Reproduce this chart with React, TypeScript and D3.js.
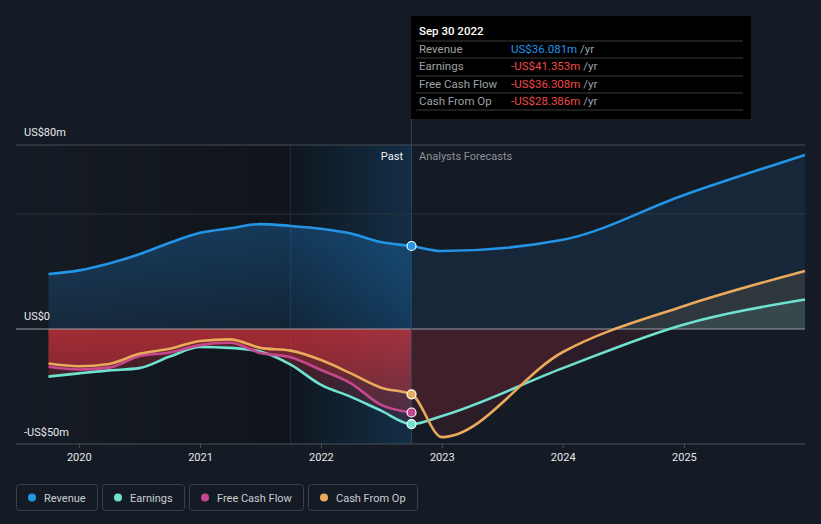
import React from "react";
import * as d3 from "d3";

// ---------- DATA ----------
const pastDates = [
  "2019-09-30", "2019-12-31", "2020-03-31", "2020-06-30", "2020-09-30",
  "2020-12-31", "2021-03-31", "2021-06-30", "2021-09-30", "2021-12-31",
  "2022-03-31", "2022-06-30", "2022-09-30",
];
const revenuePast = [23.9, 25.5, 28.5, 32.5, 37.5, 41.8, 43.8, 45.6, 44.8, 43.6, 41.5, 37.8, 36.081];
const earningsPast = [-20.7, -19.3, -18.0, -17.0, -12.0, -7.8, -8.2, -9.8, -15.5, -24.3, -29.5, -35.5, -41.353];
const fcfPast = [-16.4, -17.6, -16.8, -11.8, -10.2, -7.0, -6.0, -10.4, -12.3, -17.8, -23.6, -33.0, -36.308];
const cfoPast = [-15.0, -16.2, -15.2, -10.8, -8.6, -5.2, -4.5, -8.2, -9.4, -13.5, -19.3, -25.5, -28.386];

const forecastDates = ["2022-12-31", "2023-12-31", "2024-12-31", "2025-12-31"];
const revenueForecast = [33.9, 38.8, 58.3, 75.7];
const earningsForecast = [-37.8, -17.0, 2.0, 12.8];
const cfoForecast = [-47.0, -10.0, 10.0, 25.2];

const yTicks = [80, 0, -50];
const yTickLabels = ["US$80m", "US$0", "-US$50m"];
const gridValues = [80, 50];
const xTickYears = [2020, 2021, 2022, 2023, 2024, 2025];

const seriesNames = ["Revenue", "Earnings", "Free Cash Flow", "Cash From Op"];
const seriesColors = ["#2394e6", "#6fe3d0", "#c4478f", "#e9aa5c"];

const tooltipTitle = "Sep 30 2022";
const tooltipValues = ["US$36.081m", "-US$41.353m", "-US$36.308m", "-US$28.386m"];

// ---------- helpers ----------
function measure(text: string, font: string): number {
  if (typeof document === "undefined") return text.length * 6;
  const c = document.createElement("canvas");
  const ctx = c.getContext("2d");
  if (!ctx) return text.length * 6;
  ctx.font = font;
  return ctx.measureText(text).width;
}

type P = { d: Date; v: number };

export default function App() {
  const W = 821;
  const H = 524;
  const parse = d3.timeParse("%Y-%m-%d");
  const pd = pastDates.map((s) => parse(s) as Date);
  const fd = forecastDates.map((s) => parse(s) as Date);

  const x = d3.scaleTime().domain([pd[0], fd[fd.length - 1]]).range([48.5, 805]);
  const y = d3.scaleLinear().domain([-50, 80]).range([444, 145]);

  const build = (past: number[], fc?: number[]): P[] => [
    ...past.map((v, i) => ({ d: pd[i], v })),
    ...(fc ? fc.map((v, i) => ({ d: fd[i], v })) : []),
  ];

  const revenue = build(revenuePast, revenueForecast);
  const earnings = build(earningsPast, earningsForecast);
  const fcf = build(fcfPast);
  const cfo = build(cfoPast, cfoForecast);

  const line = d3
    .line<P>()
    .x((p) => x(p.d))
    .y((p) => y(p.v))
    .curve(d3.curveMonotoneX);
  const area = d3
    .area<P>()
    .x((p) => x(p.d))
    .y0(y(0))
    .y1((p) => y(p.v))
    .curve(d3.curveMonotoneX);

  const left = 16;
  const right = 805;
  const top = y(80);
  const bottom = y(-50);
  const zero = y(0);
  const split = x(pd[pd.length - 1]);
  const shadeStart = x(parse("2021-09-30") as Date);

  const font = "Roboto, 'Noto Sans', sans-serif";

  // legend layout
  const legendFont = "11px Roboto";
  let lx = 16;
  const legendItems = seriesNames.map((n, i) => {
    const tw = measure(n, legendFont);
    const w = Math.round(tw + 39);
    const item = { name: n, color: seriesColors[i], x: lx, w };
    lx += w + 5;
    return item;
  });

  const last = {
    rev: revenue[pd.length - 1],
    earn: earnings[pd.length - 1],
    fcf: fcf[pd.length - 1],
    cfo: cfo[pd.length - 1],
  };

  const tipX = 411;
  const tipRowsY = [53, 70, 88, 105];
  const tipLinesY = [41, 58, 76, 93, 110];

  return (
    <svg
      width={W}
      height={H}
      style={{ position: "absolute", left: 0, top: 0, display: "block" }}
      fontFamily={font}
    >
      <defs>
        <linearGradient id="darken" x1="0" x2="1" y1="0" y2="0">
          <stop offset="0" stopColor="#000" stopOpacity={0} />
          <stop offset="1" stopColor="#000" stopOpacity={0.25} />
        </linearGradient>
        <linearGradient id="bluePast" x1="0" x2="1" y1="0" y2="0">
          <stop offset="0" stopColor="#2196f3" stopOpacity={0.02} />
          <stop offset="1" stopColor="#2196f3" stopOpacity={0.2} />
        </linearGradient>
        <linearGradient id="revPast" gradientUnits="userSpaceOnUse" x1="0" x2="0" y1={y(50)} y2={zero}>
          <stop offset="0" stopColor="#2196f3" stopOpacity={0.3} />
          <stop offset="1" stopColor="#2196f3" stopOpacity={0.12} />
        </linearGradient>
        <linearGradient id="redPast" gradientUnits="userSpaceOnUse" x1="0" x2="0" y1={zero} y2={bottom}>
          <stop offset="0" stopColor="#e0343c" stopOpacity={0.33} />
          <stop offset="1" stopColor="#e0343c" stopOpacity={0.08} />
        </linearGradient>
        <clipPath id="pastPos">
          <rect x={0} y={0} width={split} height={zero} />
        </clipPath>
        <clipPath id="pastNeg">
          <rect x={0} y={zero} width={split} height={H - zero} />
        </clipPath>
        <clipPath id="fcPos">
          <rect x={split} y={0} width={W - split} height={zero} />
        </clipPath>
        <clipPath id="fcNeg">
          <rect x={split} y={zero} width={W - split} height={H - zero} />
        </clipPath>
      </defs>

      {/* background */}
      <rect x={0} y={0} width={W} height={H} fill="#151b24" />
      <rect x={left} y={top} width={shadeStart - left} height={bottom - top} fill="url(#darken)" />
      <rect x={shadeStart} y={top} width={split - shadeStart} height={bottom - top} fill="#000" fillOpacity={0.25} />
      <rect x={shadeStart} y={top} width={split - shadeStart} height={bottom - top} fill="url(#bluePast)" />
      <line x1={shadeStart} x2={shadeStart} y1={top} y2={bottom} stroke="#1c2d3e" strokeWidth={1} />

      {/* gridlines */}
      {gridValues.map((g, i) => (
        <line
          key={g}
          x1={left}
          x2={right}
          y1={y(g)}
          y2={y(g)}
          stroke={i === 0 ? "#464c55" : "#2a3039"}
          strokeWidth={1}
        />
      ))}

      {/* revenue fills */}
      <path d={area(revenue) || ""} fill="url(#revPast)" clipPath="url(#pastPos)" />
      <path d={area(revenue) || ""} fill="#2196f3" fillOpacity={0.1} clipPath="url(#fcPos)" />

      {/* past negative fills */}
      {[earnings, fcf, cfo].map((s, i) => (
        <path key={"pn" + i} d={area(s) || ""} fill="url(#redPast)" clipPath="url(#pastNeg)" />
      ))}
      {/* forecast fills */}
      {[earnings, cfo].map((s, i) => (
        <path key={"fn" + i} d={area(s) || ""} fill="#d0353f" fillOpacity={0.12} clipPath="url(#fcNeg)" />
      ))}
      <path d={area(earnings) || ""} fill="#71e7d6" fillOpacity={0.1} clipPath="url(#fcPos)" />
      <path d={area(cfo) || ""} fill="#e9aa5c" fillOpacity={0.12} clipPath="url(#fcPos)" />

      {/* zero line & axis */}
      <line x1={left} x2={right} y1={zero} y2={zero} stroke="#9a9ea4" strokeWidth={1.2} />
      <line x1={left} x2={right} y1={bottom} y2={bottom} stroke="#4a5058" strokeWidth={1} />
      {xTickYears.map((yr) => {
        const xx = x(new Date(yr, 0, 1));
        return (
          <g key={yr}>
            <line x1={xx} x2={xx} y1={bottom} y2={bottom + 4} stroke="#4a5058" />
            <text x={xx} y={461} textAnchor="middle" fontSize={11} fill="#e6e8ea">
              {yr}
            </text>
          </g>
        );
      })}

      {/* split line */}
      <line x1={split} x2={split} y1={16} y2={bottom} stroke="#29435c" strokeWidth={1} />

      {/* lines */}
      <path d={line(revenue) || ""} fill="none" stroke={seriesColors[0]} strokeWidth={2.6} />
      <path d={line(earnings) || ""} fill="none" stroke={seriesColors[1]} strokeWidth={2.6} />
      <path d={line(fcf) || ""} fill="none" stroke={seriesColors[2]} strokeWidth={2.6} />
      <path d={line(cfo) || ""} fill="none" stroke={seriesColors[3]} strokeWidth={2.6} />

      {/* markers */}
      {[last.rev, last.earn, last.fcf, last.cfo].map((p, i) => (
        <circle key={"m" + i} cx={x(p.d)} cy={y(p.v)} r={4.5} fill={seriesColors[i]} stroke="#fff" strokeWidth={1.2} />
      ))}

      {/* y labels */}
      {yTicks.map((t, i) => (
        <text key={t} x={24} y={y(t) - (t === -50 ? 8 : 9)} fontSize={11} fill="#e8eaec">
          {yTickLabels[i]}
        </text>
      ))}

      {/* past / forecast labels */}
      <text x={403} y={160} textAnchor="end" fontSize={11} fill="#f0f2f4">
        Past
      </text>
      <text x={419} y={160} fontSize={11} fill="#8c9198">
        Analysts Forecasts
      </text>

      {/* tooltip */}
      <rect x={tipX} y={16} width={340} height={103} fill="#000" />
      <text x={419} y={35} fontSize={11.5} fontWeight={500} fill="#ffffff">
        {tooltipTitle}
      </text>
      {tipLinesY.map((ly) => (
        <line key={ly} x1={416} x2={743} y1={ly} y2={ly} stroke="#3a3a3a" strokeWidth={1} />
      ))}
      {seriesNames.map((n, i) => (
        <g key={"tip" + n}>
          <text x={419} y={tipRowsY[i]} fontSize={11.5} fill="#9ea2a7">
            {n}
          </text>
          <text x={511} y={tipRowsY[i]} fontSize={11.5}>
            <tspan fill={i === 0 ? "#2394e6" : "#f04848"}>{tooltipValues[i]}</tspan>
            <tspan fill="#9ea2a7"> /yr</tspan>
          </text>
        </g>
      ))}

      {/* legend */}
      {legendItems.map((it) => (
        <g key={it.name}>
          <rect
            x={it.x + 0.5}
            y={484.5}
            width={it.w}
            height={26}
            rx={3}
            fill="none"
            stroke="#3b414b"
            strokeWidth={1}
          />
          <circle cx={it.x + 16} cy={497.5} r={4} fill={it.color} />
          <text x={it.x + 28} y={501.5} fontSize={11} fill="#c8cdd2">
            {it.name}
          </text>
        </g>
      ))}
    </svg>
  );
}
